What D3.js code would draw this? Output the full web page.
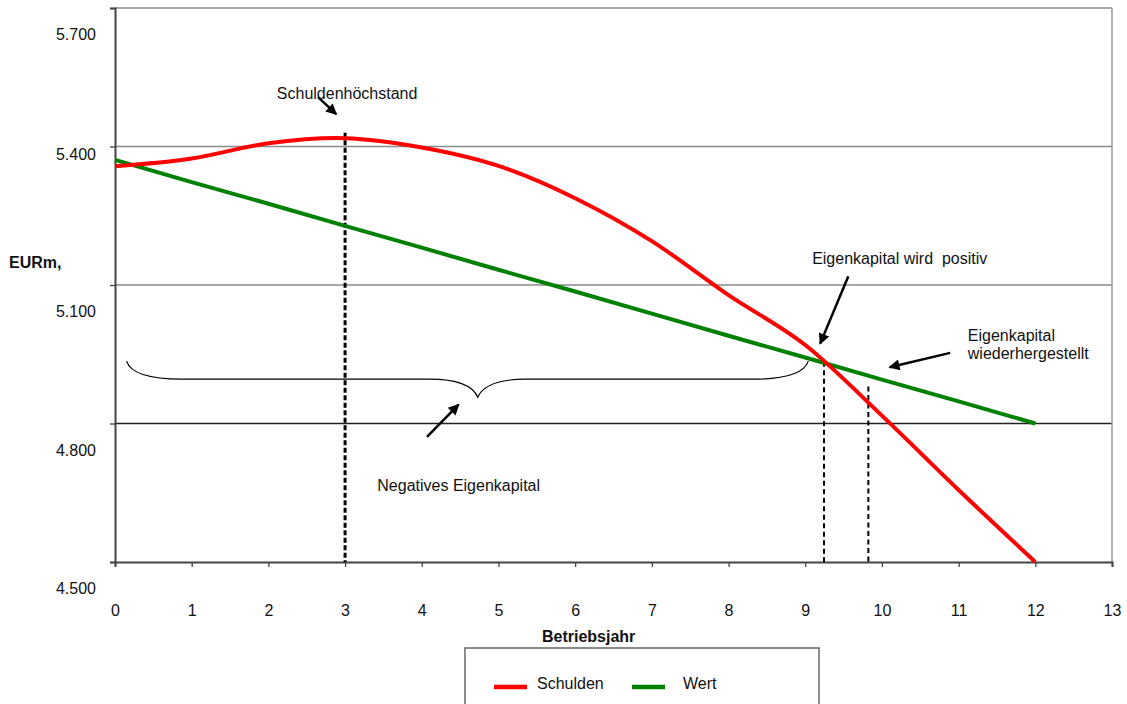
<!DOCTYPE html>
<html>
<head>
<meta charset="utf-8">
<script src="https://cdn.jsdelivr.net/npm/d3@7"></script>
<style>
  html, body { margin: 0; padding: 0; background: #fff; }
  svg { display: block; }
  text { font-family: "Liberation Sans", Arial, sans-serif; fill: #111; }
</style>
</head>
<body>
<svg id="chart" width="1127" height="704"></svg>
<script>
// ---- data ----
const years = [0, 1, 2, 3, 4, 5, 6, 7, 8, 9, 10, 11, 12];
const schulden = [5.357, 5.374, 5.407, 5.418, 5.398, 5.358, 5.288, 5.195, 5.078, 4.970, 4.817, 4.656, 4.500];
const wert = [5.371, 5.323, 5.276, 5.228, 5.181, 5.133, 5.086, 5.038, 4.990, 4.943, 4.895, 4.848, 4.800];
const xTicks = [0, 1, 2, 3, 4, 5, 6, 7, 8, 9, 10, 11, 12, 13];
const yTicks = [4.5, 4.8, 5.1, 5.4, 5.7];
const seriesNames = ["Schulden", "Wert"];
const seriesColors = ["#ff0000", "#008000"];
// vertical dashed markers: year and top value
const markerYears = [3, 9.245, 9.823];
const markerTops = [5.430, 4.934, 4.880];
// annotations (data coords)
const notes = [
  { text: "Schuldenhöchstand", x: 2.11, y: 5.503 },
  { text: "Eigenkapital wird  positiv", x: 9.09, y: 5.145 },
  { text: "Eigenkapital", x: 11.12, y: 4.978 },
  { text: "wiederhergestellt", x: 11.12, y: 4.939 },
  { text: "Negatives Eigenkapital", x: 3.42, y: 4.654 }
];
const arrows = [
  { x1: 2.647, y1: 5.507, x2: 2.885, y2: 5.470 },
  { x1: 9.562, y1: 5.119, x2: 9.195, y2: 4.973 },
  { x1: 10.89, y1: 4.953, x2: 10.10, y2: 4.922 },
  { x1: 4.068, y1: 4.771, x2: 4.480, y2: 4.841 }
];
const brace = { start: 0.15, end: 9.04, tip: 4.73, top: 4.935, level: 4.896, tipY: 4.857 };

// ---- layout ----
const svg = d3.select("#chart");
const pLeft = 115, pRight = 1112, pTop = 8, pBottom = 562;
const x = d3.scaleLinear().domain([0, 13]).range([pLeft, pRight]);
const y = d3.scaleLinear().domain([4.5, 5.7]).range([pBottom, pTop]);
const FONT = "'Liberation Sans', Arial, sans-serif";
const FS = "16px";

// gridlines
svg.append("g").selectAll("line").data(yTicks.filter(d => d > 4.5)).join("line")
  .attr("x1", pLeft).attr("x2", pRight)
  .attr("y1", d => y(d)).attr("y2", d => y(d))
  .attr("stroke", d => d === 4.8 ? "#222" : "#8a8a8a")
  .attr("stroke-width", 1.3);

// right border
svg.append("line").attr("x1", pRight).attr("x2", pRight).attr("y1", pTop).attr("y2", pBottom)
  .attr("stroke", "#9a9a9a").attr("stroke-width", 1.5);

// x axis
const gx = svg.append("g").attr("transform", `translate(0,${pBottom})`)
  .call(d3.axisBottom(x).tickValues(xTicks).tickSize(5).tickFormat(d3.format("d")));
gx.select(".domain").attr("stroke", "#444").attr("stroke-width", 2);
gx.selectAll(".tick line").attr("stroke", "#444").attr("stroke-width", 1.3);
gx.selectAll("text").attr("y", 48).attr("dy", "0.35em")
  .style("font-size", FS).style("font-family", FONT).attr("fill", "#111");

// y axis
const gy = svg.append("g").attr("transform", `translate(${pLeft},0)`)
  .call(d3.axisLeft(y).tickValues(yTicks).tickSize(5).tickFormat(d3.format(".3f")));
gy.select(".domain").attr("stroke", "#444").attr("stroke-width", 2);
gy.selectAll(".tick line").attr("stroke", "#444").attr("stroke-width", 1.3);
gy.selectAll("text").attr("x", -19).attr("dy", d => d === 5.4 ? "0.82em" : "1.97em")
  .style("font-size", FS).style("font-family", FONT).attr("fill", "#111");

// axis titles
svg.append("text").attr("x", 9).attr("y", 268).text("EURm,")
  .style("font-size", FS).style("font-weight", "bold");
svg.append("text").attr("x", (x(0) + x(12.3)) / 2 + 2).attr("y", 642).attr("text-anchor", "middle")
  .text("Betriebsjahr").style("font-size", FS).style("font-weight", "bold");

// dashed markers
svg.append("g").selectAll("line").data(markerYears).join("line")
  .attr("x1", d => x(d)).attr("x2", d => x(d))
  .attr("y1", (d, i) => y(markerTops[i])).attr("y2", pBottom)
  .attr("stroke", "#000")
  .attr("stroke-width", (d, i) => i === 0 ? 3 : 2)
  .attr("stroke-dasharray", (d, i) => i === 0 ? "5,2.5" : "5,3.5");

// brace
const bx0 = x(brace.start), bx1 = x(brace.end), bxm = x(brace.tip);
const byT = y(brace.top), byL = y(brace.level), byTip = y(brace.tipY);
const bp = d3.path();
bp.moveTo(bx0, byT);
bp.quadraticCurveTo(bx0 + 6, byL, bx0 + 55, byL);
bp.lineTo(bxm - 48, byL);
bp.quadraticCurveTo(bxm - 8, byL, bxm, byTip);
bp.quadraticCurveTo(bxm + 8, byL, bxm + 48, byL);
bp.lineTo(bx1 - 55, byL);
bp.quadraticCurveTo(bx1 - 6, byL, bx1, byT);
svg.append("path").attr("d", bp.toString()).attr("fill", "none").attr("stroke", "#000").attr("stroke-width", 1.2);

// lines
const straight = d3.line().x((d, i) => x(years[i])).y(d => y(d)).curve(d3.curveLinear);
svg.append("path").datum(wert).attr("d", straight)
  .attr("fill", "none").attr("stroke", seriesColors[1]).attr("stroke-width", 4);
const smooth = d3.line().x((d, i) => x(years[i])).y(d => y(d)).curve(d3.curveCardinal.tension(0));
svg.append("path").datum(schulden).attr("d", smooth)
  .attr("fill", "none").attr("stroke", seriesColors[0]).attr("stroke-width", 4);

// arrows
svg.append("defs").append("marker").attr("id", "ah")
  .attr("viewBox", "0 0 10 10").attr("refX", 9).attr("refY", 5)
  .attr("markerWidth", 13).attr("markerHeight", 11).attr("markerUnits", "userSpaceOnUse")
  .attr("orient", "auto")
  .append("path").attr("d", "M0,0 L10,5 L0,10 Z").attr("fill", "#000");
svg.append("g").selectAll("line").data(arrows).join("line")
  .attr("x1", d => x(d.x1)).attr("y1", d => y(d.y1))
  .attr("x2", d => x(d.x2)).attr("y2", d => y(d.y2))
  .attr("stroke", "#000").attr("stroke-width", 2.5).attr("marker-end", "url(#ah)");

// notes
svg.append("g").selectAll("text").data(notes).join("text")
  .attr("x", d => x(d.x)).attr("y", d => y(d.y))
  .style("font-size", FS).style("white-space", "pre")
  .text(d => d.text);

// legend
const lg = svg.append("g");
lg.append("rect").attr("x", 465).attr("y", 648).attr("width", 354).attr("height", 80)
  .attr("fill", "#fff").attr("stroke", "#666").attr("stroke-width", 1.5);
const legX = [494, 632], legTX = [537, 683];
seriesNames.forEach((n, i) => {
  lg.append("line").attr("x1", legX[i]).attr("x2", legX[i] + 33).attr("y1", 687).attr("y2", 687)
    .attr("stroke", seriesColors[i]).attr("stroke-width", 4.5);
  lg.append("text").attr("x", legTX[i]).attr("y", 689).text(n).style("font-size", FS);
});
</script>
</body>
</html>
